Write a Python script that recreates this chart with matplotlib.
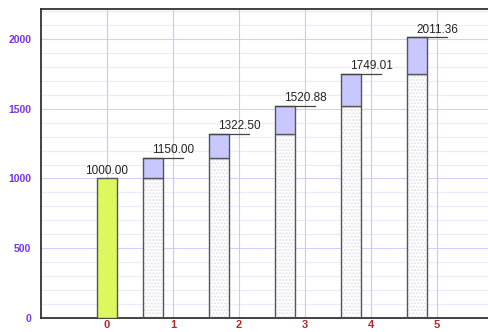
import matplotlib.pyplot as plt
import numpy as np

plt.rcParams['font.family'] = ['Liberation Sans', 'DejaVu Sans']

# compound growth, 15% per period
periods = [0, 1, 2, 3, 4, 5]
values = [1000.00, 1150.00, 1322.50, 1520.88, 1749.01, 2011.36]
labels = ['1000.00', '1150.00', '1322.50', '1520.88', '1749.01', '2011.36']

fig = plt.figure(figsize=(4.89, 3.32), dpi=100)
ax = fig.add_axes([41/489, 1 - 318/332, 448/489, (318 - 9)/332])

w = 0.3
shift = 0.3

# gridlines
for y in np.arange(100, 2300, 100):
    ax.axhline(y, color='#ebebff' if y % 500 else '#d0d0ff', lw=0.8, zorder=0)
for x in periods:
    ax.axvline(x, color='#c8c8ff', lw=0.8, zorder=0)

# start value
ax.bar(periods[0], values[0], width=w, color='#ddf75f', edgecolor='#555555', lw=1, zorder=3)
ax.text(periods[0], values[0] + 12, labels[0], ha='center', va='bottom', fontsize=8.5,
        color='#222222', zorder=5)

for i in range(1, len(values)):
    xc = periods[i] - shift
    base = values[i - 1]
    inc = values[i] - base
    ax.bar(xc, base, width=w, color='white', edgecolor='#e2e2ec', hatch='.....', lw=0, zorder=2)
    ax.bar(xc, base, width=w, fill=False, edgecolor='#555555', lw=1, zorder=3)
    ax.bar(xc, inc, bottom=base, width=w, color='#c8c8ff', edgecolor='#555555', lw=1, zorder=3)
    ax.plot([xc - w/2, periods[i] + 0.15], [values[i], values[i]], color='#444444', lw=0.9, zorder=4)
    ax.text(periods[i], values[i] + 12, labels[i], ha='center', va='bottom', fontsize=8.5,
            color='#222222', zorder=5)

ax.set_xlim(-1.0, -1.0 + 448/66)
ax.set_ylim(0, 2215)
ax.set_yticks([0, 500, 1000, 1500, 2000])
ax.set_xticks(periods)
ax.tick_params(axis='both', length=0)
for t in ax.get_yticklabels():
    t.set_color('#7a35e8')
    t.set_fontweight('bold')
    t.set_fontsize(7.5)
for t in ax.get_xticklabels():
    t.set_color('#b02a2a')
    t.set_fontweight('bold')
    t.set_fontsize(8)
ax.tick_params(axis='y', pad=7)
ax.tick_params(axis='x', pad=1.5)

ax.spines['right'].set_visible(False)
for s in ['top', 'left', 'bottom']:
    ax.spines[s].set_color('#333333')
    ax.spines[s].set_linewidth(1.3)

fig.savefig('out.png', dpi=100)
